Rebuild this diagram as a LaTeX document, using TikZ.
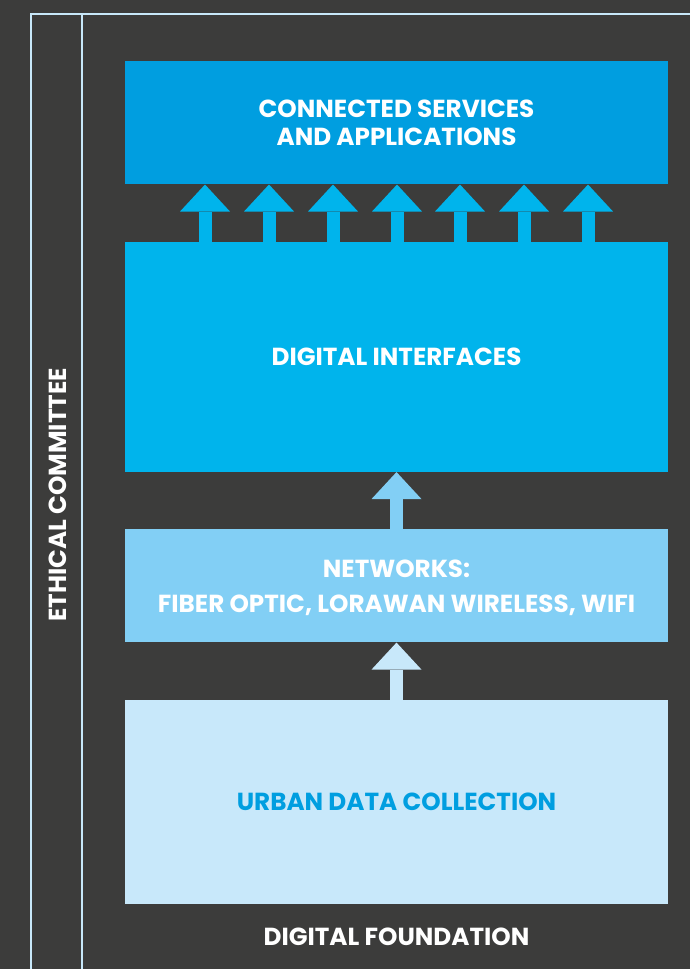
\documentclass[tikz,border=0pt]{standalone}
\usepackage{xcolor}
\usepackage{fontspec}
\setmainfont{Poppins}
\usepackage{tikz}
\usetikzlibrary{positioning,arrows.meta}

\definecolor{bgdark}{RGB}{60,60,59}
\definecolor{appsblue}{RGB}{0,158,224}
\definecolor{ifaceblue}{RGB}{0,180,236}
\definecolor{netblue}{RGB}{130,207,245}
\definecolor{urbanblue}{RGB}{200,232,250}

\begin{document}
\begin{tikzpicture}[x=0.75pt, y=-0.75pt, node distance=42.75pt,
    layer/.style={rectangle, minimum width=407.25pt, inner sep=0pt, align=center, text depth=0pt,
      text=white, font=\fontsize{18.5}{21}\selectfont\bfseries},
    uparrow/.style={line width=9.75pt, -{Triangle[width=37.5pt, length=20.25pt, line width=0pt]}},
    frameline/.style={draw=urbanblue, line width=1.6pt}]
      \fill[bgdark] (0,0) rectangle (690,969);
      \useasboundingbox (0,0) rectangle (690,969);
      \draw[frameline] (31,969) |- (690,14);
      \draw[frameline] (82,969) -- (82,14);
      \node (apps) [layer, fill=appsblue, minimum height=92.25pt, anchor=north] at (396.5,61) {CONNECTED SERVICES\\AND APPLICATIONS};
      \node (iface) [layer, fill=ifaceblue, minimum height=172.5pt, below=of apps] {DIGITAL INTERFACES};
      \node (net) [layer, fill=netblue, minimum height=84.75pt, below=of iface, font=\fontsize{18.5}{26.25}\selectfont\bfseries] {NETWORKS:\\FIBER OPTIC, LORAWAN WIRELESS, WIFI};
      \node (urban) [layer, fill=urbanblue, minimum height=153pt, below=of net, text=appsblue] {URBAN DATA COLLECTION};
      \node (found) [text=white, font=\fontsize{18.5}{21}\selectfont\bfseries] at (396.5,937) {DIGITAL FOUNDATION};
      \node (ethics) [rotate=90, text=white, font=\fontsize{18.5}{21}\selectfont\bfseries] at (58,495) {ETHICAL COMMITTEE};
      \foreach \x in {205,269,333,397,460,524,588}
        \draw[uparrow, ifaceblue] (\x,0 |- iface.north) -- (\x,0 |- apps.south);
      \draw[uparrow, netblue] (net) -- (iface);
      \draw[uparrow, urbanblue] (urban) -- (net);
  \end{tikzpicture}
\end{document}
